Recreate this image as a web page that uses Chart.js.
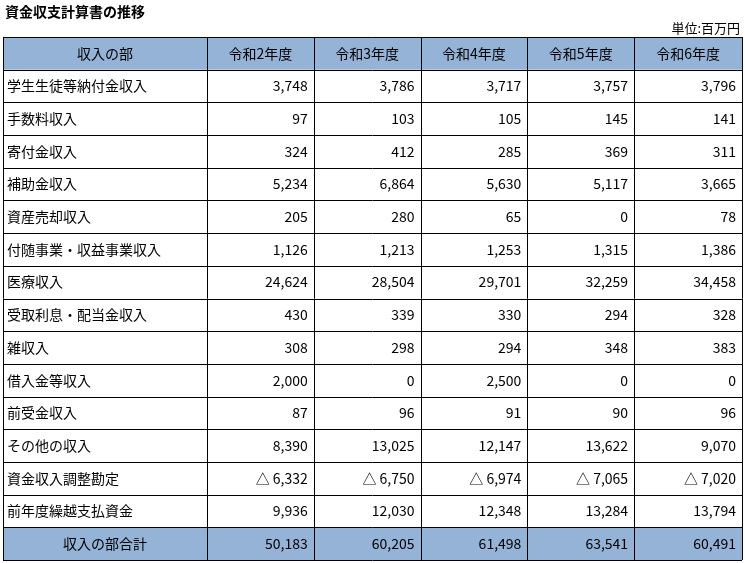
<!DOCTYPE html>
<html><head><meta charset="utf-8">
<script src="https://cdn.jsdelivr.net/npm/chart.js@4"></script>
<style>html,body{margin:0;padding:0;background:#fff}</style>
</head><body>
<div style="width:745px;height:563px"><canvas id="c"></canvas></div>
<script>
const title = '資金収支計算書の推移';
const unit = '単位:百万円';
const headCorner = '収入の部';
const years = ['令和2年度','令和3年度','令和4年度','令和5年度','令和6年度'];
const rows = ['学生生徒等納付金収入','手数料収入','寄付金収入','補助金収入','資産売却収入','付随事業・収益事業収入','医療収入','受取利息・配当金収入','雑収入','借入金等収入','前受金収入','その他の収入','資金収入調整勘定','前年度繰越支払資金'];
const totalLabel = '収入の部合計';
const r2 = [3748,97,324,5234,205,1126,24624,430,308,2000,87,8390,-6332,9936];
const r3 = [3786,103,412,6864,280,1213,28504,339,298,0,96,13025,-6750,12030];
const r4 = [3717,105,285,5630,65,1253,29701,330,294,2500,91,12147,-6974,12348];
const r5 = [3757,145,369,5117,0,1315,32259,294,348,0,90,13622,-7065,13284];
const r6 = [3796,141,311,3665,78,1386,34458,328,383,0,96,9070,-7020,13794];
const totals = [50183,60205,61498,63541,60491];
const cols = [r2,r3,r4,r5,r6];
const colEdges = [0,1.91,2.91,3.91,4.91,5.91,6.92];
const FONT = '"Noto Sans CJK JP", sans-serif';
function fmt(v){ return v<0 ? '△ '+Math.abs(v).toLocaleString('en-US') : v.toLocaleString('en-US'); }
const tablePlugin = {
  id:'table',
  afterDraw(chart){
    const ctx=chart.ctx, x=chart.scales.x, y=chart.scales.y;
    const nRows = rows.length+2;
    const X=i=>x.getPixelForValue(colEdges[i]), Y=j=>y.getPixelForValue(j);
    ctx.save();
    ctx.fillStyle='#95b3d7';
    ctx.fillRect(X(0),Y(0),X(6)-X(0),Y(1)-Y(0));
    ctx.fillRect(X(0),Y(nRows-1),X(6)-X(0),Y(nRows)-Y(nRows-1));
    ctx.strokeStyle='#000'; ctx.lineWidth=1;
    for(let j=0;j<=nRows;j++){ctx.beginPath();ctx.moveTo(X(0),Math.round(Y(j))+0.5);ctx.lineTo(X(6),Math.round(Y(j))+0.5);ctx.stroke();}
    for(let i=0;i<=6;i++){ctx.beginPath();ctx.moveTo(Math.round(X(i))+0.5,Y(0));ctx.lineTo(Math.round(X(i))+0.5,Y(nRows));ctx.stroke();}
    ctx.fillStyle='#000'; ctx.font='14px '+FONT; ctx.textBaseline='middle';
    const cy=j=>(Y(j)+Y(j+1))/2;
    ctx.textAlign='center';
    ctx.fillText(headCorner,(X(0)+X(1))/2,cy(0));
    years.forEach((t,i)=>ctx.fillText(t,(X(i+1)+X(i+2))/2,cy(0)));
    ctx.fillText(totalLabel,(X(0)+X(1))/2,cy(nRows-1));
    ctx.textAlign='left';
    rows.forEach((t,j)=>ctx.fillText(t,X(0)+4,cy(j+1)));
    ctx.textAlign='right';
    cols.forEach((c,i)=>c.forEach((v,j)=>ctx.fillText(fmt(v),X(i+2)-6,cy(j+1))));
    totals.forEach((v,i)=>ctx.fillText(fmt(v),X(i+2)-6,cy(nRows-1)));
    ctx.font='bold 14px '+FONT; ctx.textAlign='left';
    ctx.fillText(title,5,12);
    ctx.font='13px '+FONT; ctx.textAlign='right';
    ctx.fillText(unit,740,28);
    ctx.restore();
  }
};
new Chart(document.getElementById('c'),{
  type:'scatter',
  data:{datasets:[{data:[]}]},
  options:{responsive:true,maintainAspectRatio:false,animation:false,
    layout:{padding:{left:3,top:37,right:3,bottom:3}},
    plugins:{legend:{display:false},tooltip:{enabled:false}},
    scales:{x:{type:'linear',min:0,max:6.92,display:false},
            y:{type:'linear',min:0,max:16,reverse:true,display:false}}},
  plugins:[tablePlugin]
});
</script>
</body></html>
